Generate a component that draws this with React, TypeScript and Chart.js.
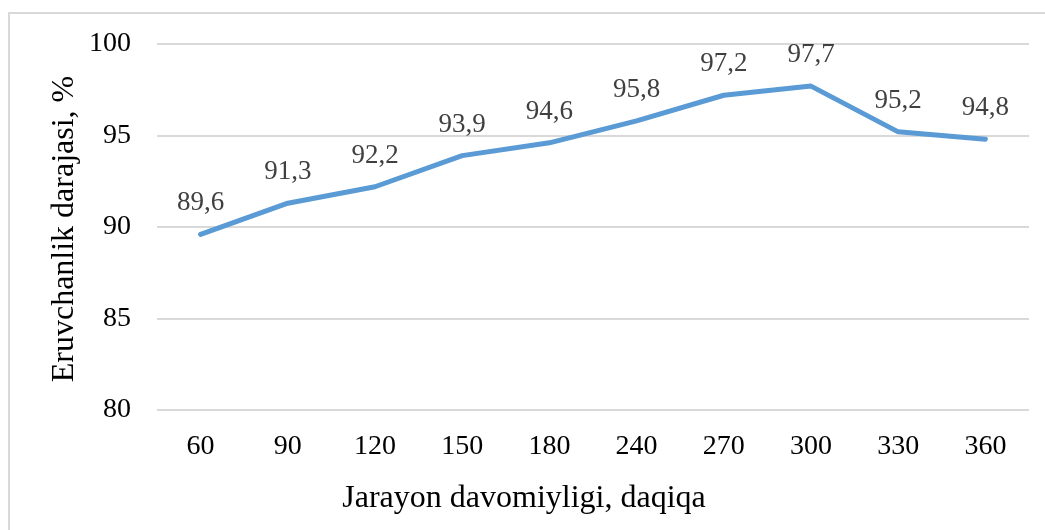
import React, { useEffect, useRef } from "react";
import { Chart, registerables } from "chart.js";
Chart.register(...registerables);

const categories = ["60", "90", "120", "150", "180", "240", "270", "300", "330", "360"];
const values = [89.6, 91.3, 92.2, 93.9, 94.6, 95.8, 97.2, 97.7, 95.2, 94.8];
const valueLabels = ["89,6", "91,3", "92,2", "93,9", "94,6", "95,8", "97,2", "97,7", "95,2", "94,8"];
const xTitle = "Jarayon davomiyligi, daqiqa";
const yTitle = "Eruvchanlik darajasi, %";

const FONT = "'Liberation Serif', 'Times New Roman', serif";

const labelPlugin = {
  id: "valueLabels",
  afterDatasetsDraw(chart: any) {
    const ctx = chart.ctx;
    const meta = chart.getDatasetMeta(0);
    ctx.save();
    ctx.font = `27px ${FONT}`;
    ctx.fillStyle = "#404040";
    ctx.textAlign = "center";
    ctx.textBaseline = "alphabetic";
    meta.data.forEach((pt: any, i: number) => {
      ctx.fillText(valueLabels[i], pt.x, pt.y - 24);
    });
    // axis titles (centered like the original: x title on the chart area, y title on the plot)
    ctx.fillStyle = "#000";
    ctx.font = `32px ${FONT}`;
    ctx.fillText(xTitle, 524, 507);
    const ca = chart.chartArea;
    ctx.translate(73, (ca.top + ca.bottom) / 2 + 2);
    ctx.rotate(-Math.PI / 2);
    ctx.fillText(yTitle, 0, 0);
    ctx.restore();
  },
};

export default function App() {
  const ref = useRef<HTMLCanvasElement>(null);
  useEffect(() => {
    if (!ref.current) return;
    const chart = new Chart(ref.current, {
      type: "line",
      data: {
        labels: categories,
        datasets: [
          {
            data: values,
            borderColor: "#5B9BD5",
            borderWidth: 5,
            borderCapStyle: "round",
            borderJoinStyle: "round",
            pointRadius: 0,
            tension: 0,
            fill: false,
          },
        ],
      },
      options: {
        animation: false,
        responsive: false,
        maintainAspectRatio: false,
        layout: { padding: { top: 44, right: 16, bottom: 0, left: 0 } },
        plugins: { legend: { display: false }, tooltip: { enabled: false } },
        scales: {
          x: {
            offset: true,
            grid: { display: false },
            border: { display: false },
            ticks: { color: "#000", font: { family: FONT, size: 28 }, padding: 12, maxRotation: 0 },
            title: { display: false },
            afterFit(scale: any) {
              scale.height = 120;
            },
          },
          y: {
            min: 80,
            max: 100,
            ticks: { stepSize: 5, color: "#000", font: { family: FONT, size: 28 }, padding: 26 },
            grid: { color: "#d9d9d9", lineWidth: 2, drawTicks: false },
            border: { display: false },
            title: { display: false },
            afterFit(scale: any) {
              scale.width = 157;
            },
          },
        },
      },
      plugins: [labelPlugin],
    });
    return () => chart.destroy();
  }, []);
  return (
    <div style={{ position: "fixed", left: 0, top: 0, width: 1045, height: 530, background: "#fff", overflow: "hidden" }}>
      <div
        style={{
          position: "absolute",
          left: 8,
          top: 12,
          width: 1100,
          height: 600,
          border: "2px solid #d9d9d9",
        }}
      />
      <canvas ref={ref} width={1045} height={530} style={{ position: "absolute", left: 0, top: 0 }} />
    </div>
  );
}
